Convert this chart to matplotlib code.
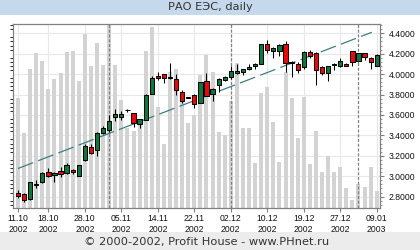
import matplotlib
matplotlib.use("Agg")
import matplotlib.pyplot as plt
import numpy as np
from matplotlib.ticker import MultipleLocator, FormatStrFormatter

# ---------------- data ----------------
opens = [2.84, 2.83, 2.78, 2.915, 2.94, 3.04, 3.01, 3.05, 3.03, 3.065,
         3.00, 3.16, 3.29, 3.255, 3.425, 3.45, 3.58, 3.58, 3.645, 3.615,
         3.51, 3.555, 3.81, 3.98, 4.00, 3.965, 3.95, 3.825, 3.775, 3.795,
         3.715, 3.93, 3.805, 3.89, 3.94, 3.97, 4.01, 4.02, 4.05, 4.08,
         4.10, 4.30, 4.23, 4.23, 4.30, 4.11, 4.095, 4.065, 4.22, 4.205,
         4.065, 4.01, 4.085, 4.08, 4.10, 4.225, 4.13, 4.205, 4.155, 4.08]
highs = [2.864, 2.84, 2.94, 2.96, 3.04, 3.08, 3.04, 3.09, 3.13, 3.075,
         3.115, 3.32, 3.315, 3.435, 3.49, 3.60, 3.655, 3.64, 3.66, 3.62,
         3.565, 3.81, 3.98, 4.02, 4.00, 4.11, 4.00, 3.845, 3.78, 3.805,
         3.92, 4.01, 3.865, 3.96, 3.98, 4.08, 4.10, 4.055, 4.10, 4.105,
         4.30, 4.335, 4.27, 4.295, 4.325, 4.13, 4.12, 4.225, 4.235, 4.215,
         4.075, 4.08, 4.11, 4.155, 4.11, 4.225, 4.21, 4.21, 4.165, 4.195]
lows = [2.788, 2.75, 2.77, 2.88, 2.93, 2.99, 2.945, 2.99, 3.02, 3.02,
        3.00, 3.15, 3.215, 3.195, 3.41, 3.435, 3.54, 3.555, 3.63, 3.485,
        3.47, 3.55, 3.81, 3.94, 3.91, 3.95, 3.795, 3.715, 3.765, 3.665,
        3.715, 3.79, 3.74, 3.825, 3.935, 3.95, 4.00, 3.99, 4.04, 4.055,
        4.10, 4.21, 4.155, 4.175, 4.025, 3.975, 4.01, 4.055, 4.16, 3.895,
        3.99, 3.935, 4.045, 4.065, 4.075, 4.075, 4.12, 4.14, 4.055, 4.075]
closes = [2.81, 2.77, 2.94, 2.92, 3.03, 3.00, 3.035, 3.02, 3.115, 3.045,
          3.115, 3.30, 3.23, 3.42, 3.475, 3.54, 3.605, 3.605, 3.65, 3.525,
          3.565, 3.80, 3.96, 3.96, 3.96, 3.97, 3.845, 3.735, 3.77, 3.705,
          3.92, 3.79, 3.85, 3.95, 3.97, 4.03, 4.03, 4.05, 4.065, 4.10,
          4.30, 4.235, 4.26, 4.29, 4.105, 4.115, 4.045, 4.215, 4.175, 4.045,
          4.01, 4.08, 4.095, 4.13, 4.08, 4.115, 4.205, 4.165, 4.115, 4.185]
volumes = [110, 75, 139, 155, 147, 119, 129, 135, 156, 157,
           127, 174, 142, 165, 143, 200, 143, 108, 80, 77,
           88, 157, 181, 101, 64, 136, 139, 109, 85, 93,
           133, 153, 136, 76, 73, 107, 145, 80, 80, 45,
           115, 121, 86, 46, 136, 110, 70, 111, 44, 77,
           36, 52, 36, 41, 20, 8, 24, 21, 41, 17]
tick_idx = [0, 5, 11, 17, 23, 29, 35, 41, 47, 53, 59]
tick_labels = ["11.10\n2002", "18.10\n2002", "28.10\n2002", "05.11\n2002",
               "14.11\n2002", "22.11\n2002", "02.12\n2002", "10.12\n2002",
               "19.12\n2002", "27.12\n2002", "09.01\n2003"]
month_starts = [15, 35, 56]
trend_x = [0, 58.2]
trend_y = [3.076, 4.41]

title = "РАО ЕЭС, daily"
footer = "© 2000-2002, Profit House - www.PHnet.ru"

# ---------------- style ----------------
W, H = 420, 250
fig = plt.figure(figsize=(W / 100, H / 100), dpi=100)
fig.patch.set_facecolor("white")
plt.rcParams['font.family'] = ["DejaVu Sans"]
lab_font = ["Liberation Sans", "DejaVu Sans"]

# title / footer bands
fig.patches.append(plt.Rectangle((0, 1 - 15 / H), 1, 15 / H, transform=fig.transFigure,
                                 facecolor="#c6d9ec", edgecolor="none", zorder=0))
fig.patches.append(plt.Rectangle((0, 0), 1, 18 / H, transform=fig.transFigure,
                                 facecolor="#ececec", edgecolor="none", zorder=0))
fig.text(0.5, 1 - 7.5 / H, title, ha="center", va="center", fontsize=8.2, color="#333333")
fig.text(207 / W, 8.5 / H, footer, ha="center", va="center", fontsize=8.2, color="#333333")

rect = [13 / W, 42 / H, 367 / W, 184 / H]
xlim = (-0.82, 59.54)
ylim = (2.689, 4.491)
x = np.arange(len(opens))

# background axes: grid only
ax_bg = fig.add_axes(rect)
ax_bg.set_xlim(*xlim)
ax_bg.set_ylim(*ylim)
ax_bg.set_xticks(tick_idx)
ax_bg.yaxis.set_major_locator(MultipleLocator(0.2))
ax_bg.grid(True, color="#e8e8e8", lw=0.8)
ax_bg.tick_params(left=False, bottom=False, labelleft=False, labelbottom=False)
for s in ax_bg.spines.values():
    s.set_visible(False)

# volume axes
ax_v = fig.add_axes(rect, sharex=ax_bg)
ax_v.patch.set_visible(False)
ax_v.bar(x, volumes, width=0.66, color="#d3d3d3", edgecolor="none")
ax_v.set_ylim(0, 184)
ax_v.tick_params(left=False, bottom=False, labelleft=False, labelbottom=False)
for s in ax_v.spines.values():
    s.set_visible(False)

# price axes
ax = fig.add_axes(rect, sharex=ax_bg, sharey=ax_bg)
ax.patch.set_visible(False)
for m in month_starts:
    ax.axvline(m, color="#808080", lw=0.9, dashes=(2.4, 1.4), zorder=1)
ax.plot(trend_x, trend_y, color="#3a8080", lw=0.9, dashes=(13, 4.3), zorder=2)

o = np.array(opens); c = np.array(closes)
hi = np.array(highs); lo = np.array(lows)
up = c >= o
colors = np.where(up, "#007f3f", "#ff0000")
ax.vlines(x, lo, hi, color="black", lw=0.75, zorder=3)
body_b = np.minimum(o, c)
body_h = np.maximum(np.abs(c - o), 0.004)
ax.bar(x, body_h, bottom=body_b, width=0.7, color=colors, edgecolor="black",
       linewidth=0.75, zorder=4)

ax.set_xlim(*xlim)
ax.set_ylim(*ylim)
ax.set_xticks(tick_idx)
ax.set_xticklabels(tick_labels, family=lab_font, fontsize=6.2, linespacing=1.3)
ax.yaxis.tick_right()
ax.yaxis.set_major_locator(MultipleLocator(0.2))
ax.yaxis.set_minor_locator(MultipleLocator(0.04))
ax.yaxis.set_major_formatter(FormatStrFormatter("%.4f"))
for lab in ax.get_yticklabels():
    lab.set_family(lab_font)
    lab.set_fontsize(6.2)
ax.tick_params(axis="x", length=3, width=0.8, color="#808080", pad=1.5, labelcolor="#111111")
ax.tick_params(axis="y", which="major", length=3, width=0.8, color="#808080", pad=3,
               labelcolor="#111111")
ax.tick_params(axis="y", which="minor", length=1.5, width=0.7, color="#909090")
for s in ax.spines.values():
    s.set_color("#808080")
    s.set_linewidth(0.9)

fig.savefig("out.png", dpi=100)
